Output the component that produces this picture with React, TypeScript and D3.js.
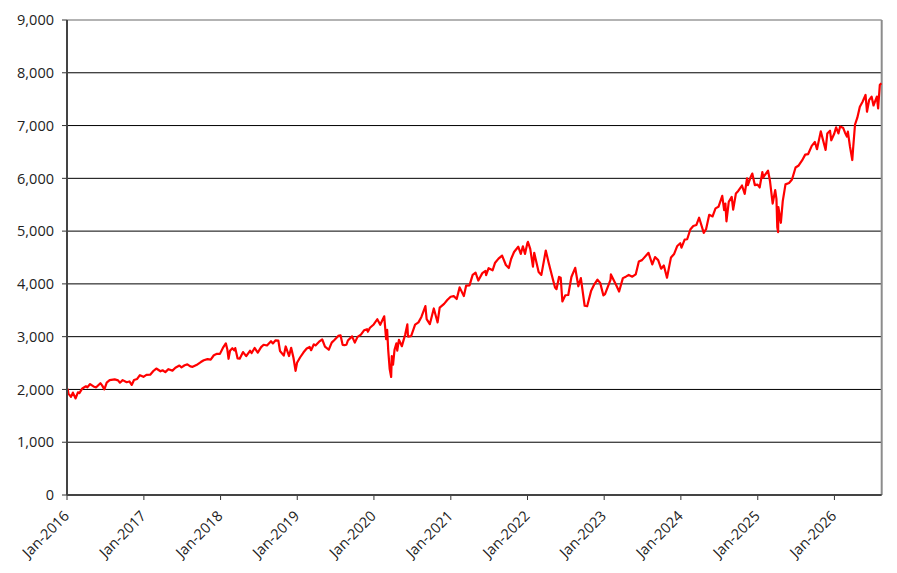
import React from "react";
import * as d3 from "d3";

// index level (roughly two to three points a month)
const y2016: [string, number][] = [
  ["2016-01-04", 2012], ["2016-01-08", 1922], ["2016-01-20", 1859], ["2016-01-29", 1940],
  ["2016-02-11", 1829], ["2016-02-22", 1946], ["2016-02-29", 1932], ["2016-03-14", 2019],
  ["2016-03-31", 2060], ["2016-04-07", 2041], ["2016-04-20", 2102], ["2016-05-06", 2057],
  ["2016-05-19", 2040], ["2016-06-08", 2119], ["2016-06-16", 2077], ["2016-06-27", 2001],
  ["2016-07-08", 2130], ["2016-07-22", 2175], ["2016-08-15", 2190], ["2016-08-31", 2171],
  ["2016-09-09", 2128], ["2016-09-22", 2177], ["2016-10-11", 2137], ["2016-10-24", 2151],
  ["2016-11-04", 2085], ["2016-11-15", 2180], ["2016-11-30", 2199], ["2016-12-13", 2271],
  ["2016-12-30", 2239],
];

const y2017: [string, number][] = [
  ["2017-01-13", 2275], ["2017-01-31", 2279], ["2017-02-15", 2349], ["2017-03-01", 2396],
  ["2017-03-21", 2344], ["2017-03-31", 2363], ["2017-04-13", 2329], ["2017-04-28", 2384],
  ["2017-05-17", 2357], ["2017-05-31", 2412], ["2017-06-19", 2453], ["2017-06-29", 2419],
  ["2017-07-14", 2459], ["2017-07-27", 2475], ["2017-08-10", 2438], ["2017-08-21", 2428],
  ["2017-09-08", 2461], ["2017-09-29", 2519], ["2017-10-13", 2553], ["2017-10-31", 2575],
  ["2017-11-15", 2565], ["2017-11-30", 2648], ["2017-12-15", 2675], ["2017-12-29", 2674],
];

const y2018: [string, number][] = [
  ["2018-01-12", 2786], ["2018-01-26", 2873], ["2018-02-02", 2762], ["2018-02-08", 2581],
  ["2018-02-15", 2732], ["2018-02-26", 2780], ["2018-03-08", 2739], ["2018-03-12", 2783],
  ["2018-03-23", 2588], ["2018-04-02", 2582], ["2018-04-18", 2708], ["2018-05-03", 2630],
  ["2018-05-21", 2733], ["2018-05-29", 2690], ["2018-06-12", 2786], ["2018-06-27", 2699],
  ["2018-07-13", 2801], ["2018-07-25", 2846], ["2018-08-10", 2833], ["2018-08-29", 2914],
  ["2018-09-07", 2872], ["2018-09-20", 2931], ["2018-10-03", 2925], ["2018-10-11", 2728],
  ["2018-10-29", 2641], ["2018-11-07", 2814], ["2018-11-23", 2633], ["2018-12-03", 2790],
  ["2018-12-14", 2600], ["2018-12-24", 2351], ["2018-12-31", 2507],
];

const y2019: [string, number][] = [
  ["2019-01-15", 2610], ["2019-01-31", 2704], ["2019-02-15", 2776], ["2019-03-01", 2804],
  ["2019-03-08", 2743], ["2019-03-21", 2855], ["2019-03-29", 2834], ["2019-04-15", 2905],
  ["2019-04-30", 2946], ["2019-05-13", 2812], ["2019-05-31", 2752], ["2019-06-14", 2887],
  ["2019-06-28", 2942], ["2019-07-15", 3014], ["2019-07-26", 3026], ["2019-08-05", 2845],
  ["2019-08-14", 2840], ["2019-08-23", 2847], ["2019-08-30", 2926], ["2019-09-19", 3006],
  ["2019-10-02", 2887], ["2019-10-15", 2996], ["2019-10-31", 3038], ["2019-11-15", 3120],
  ["2019-11-29", 3141], ["2019-12-03", 3093], ["2019-12-13", 3169], ["2019-12-31", 3231],
];

const y2020: [string, number][] = [
  ["2020-01-17", 3330], ["2020-01-31", 3226], ["2020-02-19", 3386], ["2020-02-28", 2954],
  ["2020-03-04", 3130], ["2020-03-09", 2746], ["2020-03-16", 2386], ["2020-03-23", 2237],
  ["2020-03-26", 2630], ["2020-04-01", 2471], ["2020-04-08", 2750], ["2020-04-17", 2875],
  ["2020-04-21", 2737], ["2020-04-29", 2940], ["2020-05-13", 2820], ["2020-05-29", 3044],
  ["2020-06-08", 3232], ["2020-06-11", 3002], ["2020-06-26", 3009], ["2020-07-15", 3227],
  ["2020-07-31", 3271], ["2020-08-14", 3373], ["2020-09-02", 3580], ["2020-09-08", 3332],
  ["2020-09-23", 3237], ["2020-10-12", 3534], ["2020-10-30", 3270], ["2020-11-09", 3550],
  ["2020-11-30", 3622], ["2020-12-15", 3694], ["2020-12-31", 3756],
];

const y2021: [string, number][] = [
  ["2021-01-15", 3768], ["2021-01-29", 3714], ["2021-02-12", 3934], ["2021-03-04", 3768],
  ["2021-03-15", 3968], ["2021-03-31", 3973], ["2021-04-15", 4170], ["2021-04-29", 4211],
  ["2021-05-12", 4063], ["2021-05-31", 4204], ["2021-06-15", 4246], ["2021-06-18", 4166],
  ["2021-06-30", 4298], ["2021-07-19", 4258], ["2021-07-30", 4395], ["2021-08-16", 4479],
  ["2021-09-02", 4537], ["2021-09-20", 4358], ["2021-10-04", 4300], ["2021-10-15", 4471],
  ["2021-10-29", 4605], ["2021-11-18", 4704], ["2021-11-30", 4567], ["2021-12-10", 4712],
  ["2021-12-20", 4568], ["2021-12-31", 4766],
];

const y2022: [string, number][] = [
  ["2022-01-03", 4796], ["2022-01-14", 4662], ["2022-01-27", 4327], ["2022-02-02", 4589],
  ["2022-02-23", 4225], ["2022-03-08", 4170], ["2022-03-29", 4632], ["2022-04-12", 4397],
  ["2022-04-29", 4132], ["2022-05-12", 3930], ["2022-05-19", 3900], ["2022-05-31", 4132],
  ["2022-06-08", 4116], ["2022-06-16", 3667], ["2022-06-30", 3785], ["2022-07-14", 3790],
  ["2022-07-29", 4130], ["2022-08-16", 4305], ["2022-08-31", 3955], ["2022-09-12", 4110],
  ["2022-09-30", 3586], ["2022-10-12", 3577], ["2022-10-31", 3872], ["2022-11-15", 3992],
  ["2022-11-30", 4080], ["2022-12-13", 4019], ["2022-12-28", 3783],
];

const y2023: [string, number][] = [
  ["2023-01-05", 3808], ["2023-01-31", 4077], ["2023-02-02", 4180], ["2023-02-28", 3970],
  ["2023-03-13", 3855], ["2023-03-31", 4109], ["2023-04-14", 4137], ["2023-04-28", 4169],
  ["2023-05-15", 4136], ["2023-05-31", 4180], ["2023-06-15", 4425], ["2023-06-30", 4450],
  ["2023-07-31", 4589], ["2023-08-18", 4370], ["2023-08-31", 4508], ["2023-09-15", 4450],
  ["2023-09-29", 4288], ["2023-10-12", 4349], ["2023-10-27", 4117], ["2023-11-15", 4502],
  ["2023-11-30", 4568], ["2023-12-15", 4719], ["2023-12-29", 4770],
];

const y2024: [string, number][] = [
  ["2024-01-04", 4688], ["2024-01-19", 4840], ["2024-01-31", 4846], ["2024-02-15", 5030],
  ["2024-02-29", 5096], ["2024-03-15", 5117], ["2024-03-28", 5254], ["2024-04-19", 4967],
  ["2024-04-30", 5036], ["2024-05-15", 5308], ["2024-05-31", 5278], ["2024-06-14", 5431],
  ["2024-06-28", 5460], ["2024-07-16", 5667], ["2024-07-25", 5399], ["2024-07-31", 5522],
  ["2024-08-05", 5186], ["2024-08-16", 5554], ["2024-08-30", 5648], ["2024-09-06", 5408],
  ["2024-09-19", 5713], ["2024-09-30", 5762], ["2024-10-18", 5864], ["2024-10-31", 5705],
  ["2024-11-11", 6001], ["2024-11-15", 5870], ["2024-11-29", 6032], ["2024-12-06", 6090],
  ["2024-12-18", 5872], ["2024-12-31", 5882],
];

const y2025: [string, number][] = [
  ["2025-01-10", 5827], ["2025-01-23", 6119], ["2025-01-27", 6012], ["2025-01-31", 6040],
  ["2025-02-19", 6144], ["2025-02-28", 5955], ["2025-03-13", 5522], ["2025-03-25", 5777],
  ["2025-03-31", 5612], ["2025-04-04", 5074], ["2025-04-08", 4982], ["2025-04-09", 5457],
  ["2025-04-21", 5158], ["2025-04-30", 5569], ["2025-05-13", 5886], ["2025-05-30", 5912],
  ["2025-06-13", 5977], ["2025-06-30", 6205], ["2025-07-15", 6244], ["2025-07-31", 6339],
  ["2025-08-15", 6449], ["2025-08-29", 6460], ["2025-09-15", 6615], ["2025-09-30", 6688],
  ["2025-10-10", 6552], ["2025-10-28", 6890], ["2025-11-20", 6538], ["2025-11-28", 6849],
  ["2025-12-11", 6901], ["2025-12-17", 6721], ["2025-12-31", 6845],
];

const y2026: [string, number][] = [
  ["2026-01-09", 6966], ["2026-01-20", 6850], ["2026-01-28", 6980], ["2026-02-11", 6960],
  ["2026-02-20", 6870], ["2026-03-02", 6790], ["2026-03-06", 6884], ["2026-03-16", 6600],
  ["2026-03-27", 6347], ["2026-03-31", 6570], ["2026-04-09", 7020], ["2026-04-20", 7150],
  ["2026-05-02", 7357], ["2026-05-15", 7450], ["2026-05-29", 7580], ["2026-06-05", 7262],
  ["2026-06-15", 7480], ["2026-06-27", 7547], ["2026-07-06", 7380], ["2026-07-13", 7452],
  ["2026-07-22", 7550], ["2026-07-28", 7327], ["2026-08-05", 7768], ["2026-08-12", 7800],
];

const yTicks = [0, 1000, 2000, 3000, 4000, 5000, 6000, 7000, 8000, 9000];
const xTickYears = [2016, 2017, 2018, 2019, 2020, 2021, 2022, 2023, 2024, 2025, 2026];

const W = 897;
const H = 573;
const left = 67;
const right = 881.7;
const top = 20;
const bottom = 495;
const font = "'Open Sans', sans-serif";

const parse = d3.utcParse("%Y-%m-%d");
const fmtDate = d3.utcFormat("%b-%Y");
const fmtNum = d3.format(",");

export default function App() {
  const series = [
    ...y2016, ...y2017, ...y2018, ...y2019, ...y2020, ...y2021,
    ...y2022, ...y2023, ...y2024, ...y2025, ...y2026,
  ].map(([d, v]) => ({ date: parse(d) as Date, value: v }));

  const x = d3
    .scaleUtc()
    .domain([new Date(Date.UTC(2016, 0, 1)), new Date(Date.UTC(2026, 7, 14))])
    .range([left, right]);
  const y = d3.scaleLinear().domain([0, 9000]).range([bottom, top]);

  const line = d3
    .line<{ date: Date; value: number }>()
    .x((d) => x(d.date))
    .y((d) => y(d.value));

  return (
    <svg
      width={W}
      height={H}
      style={{ position: "absolute", left: 0, top: 0, background: "#fff" }}
      fontFamily={font}
    >
      {/* gridlines */}
      {yTicks
        .filter((t) => t > 0 && t < 9000)
        .map((t) => (
          <line key={t} x1={left} x2={right} y1={y(t)} y2={y(t)} stroke="#000" strokeWidth={1} />
        ))}
      {/* frame */}
      <line x1={left} x2={right} y1={top} y2={top} stroke="#9a9a9a" strokeWidth={1.5} />
      <line x1={right} x2={right} y1={top} y2={bottom} stroke="#8c8c8c" strokeWidth={2} />

      {/* y axis */}
      {yTicks.map((t) => (
        <g key={t}>
          <line x1={left - 5} x2={left} y1={y(t)} y2={y(t)} stroke="#333" strokeWidth={1} />
          <text x={54} y={y(t)} dy="0.36em" textAnchor="end" fontSize={14.5} fill="#222">
            {fmtNum(t)}
          </text>
        </g>
      ))}

      {/* x axis */}
      {xTickYears.map((yr) => {
        const px = x(new Date(Date.UTC(yr, 0, 1)));
        return (
          <g key={yr}>
            <line x1={px} x2={px} y1={bottom} y2={bottom + 5} stroke="#333" strokeWidth={1} />
            <text
              transform={`translate(${px + 3},${bottom + 22}) rotate(-45)`}
              textAnchor="end"
              fontSize={14.5}
              fill="#222"
            >
              {fmtDate(new Date(Date.UTC(yr, 0, 1)))}
            </text>
          </g>
        );
      })}

      <path d={line(series) ?? ""} fill="none" stroke="#ff0000" strokeWidth={2.2} strokeLinejoin="round" />

      <line x1={left} x2={right} y1={bottom} y2={bottom} stroke="#444" strokeWidth={2} />
      <line x1={left} x2={left} y1={top} y2={bottom} stroke="#444" strokeWidth={2} />
    </svg>
  );
}
